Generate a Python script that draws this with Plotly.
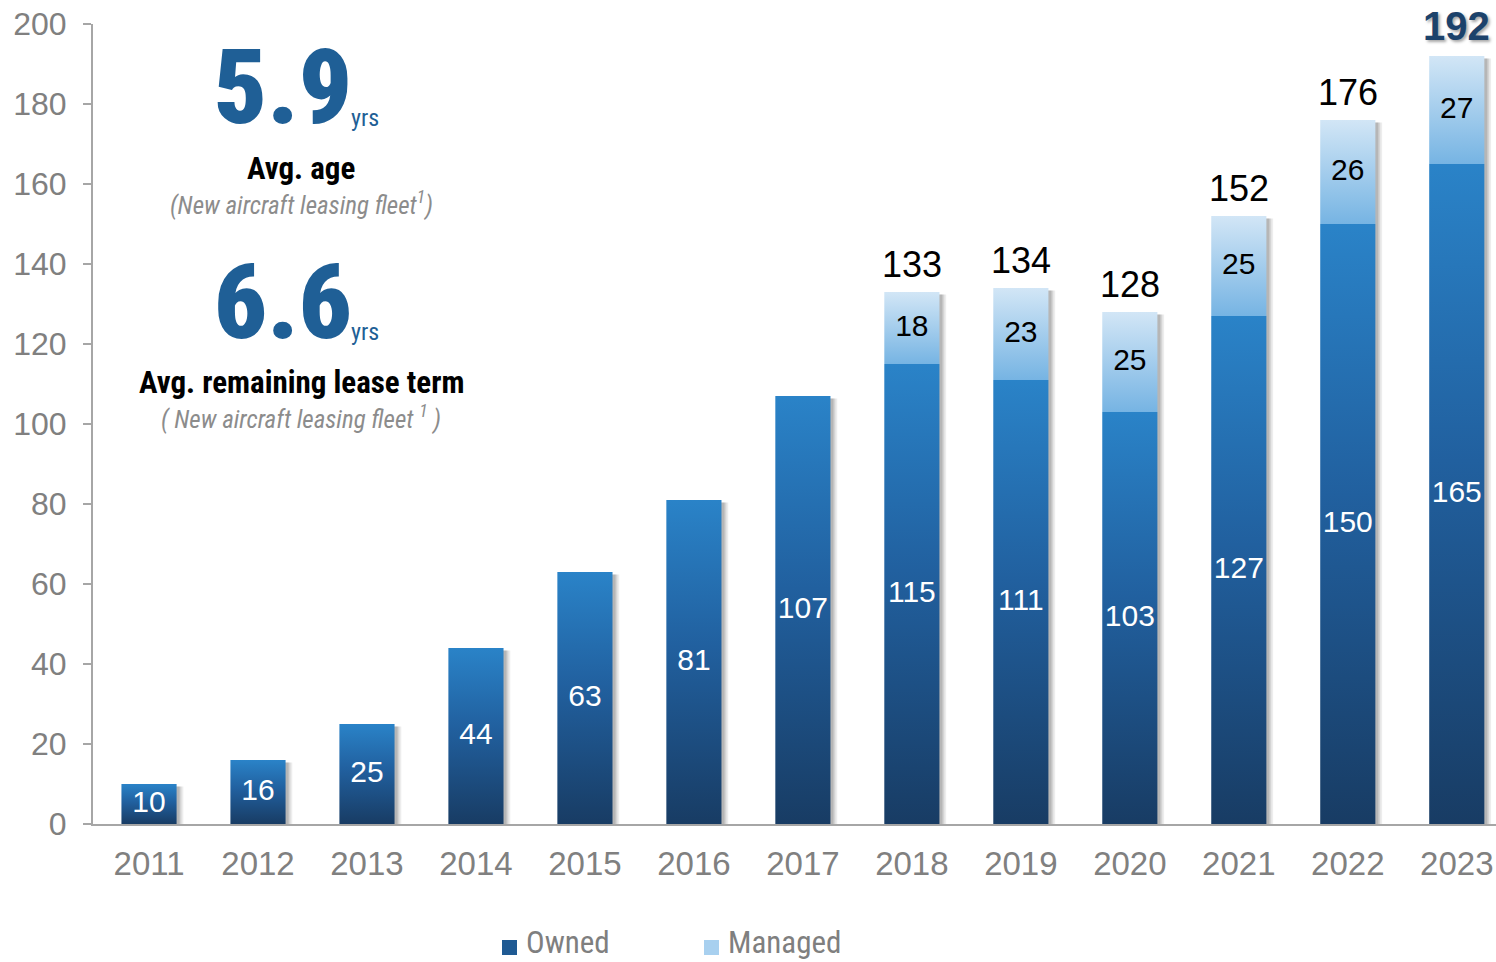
import plotly.graph_objects as go

# Fleet size by year (number of aircraft)
years = [2011, 2012, 2013, 2014, 2015, 2016, 2017, 2018, 2019, 2020, 2021, 2022, 2023]
owned = [10, 16, 25, 44, 63, 81, 107, 115, 111, 103, 127, 150, 165]
managed = [0, 0, 0, 0, 0, 0, 0, 18, 23, 25, 25, 26, 27]
totals = [None, None, None, None, None, None, None, 133, 134, 128, 152, 176, 192]

y_ticks = [0, 20, 40, 60, 80, 100, 120, 140, 160, 180, 200]
series_names = ["Owned", "Managed"]

HALF_W = 0.253
OWNED_SCALE = [[0, "#183C64"], [0.55, "#21609F"], [1, "#2A83C8"]]
MANAGED_SCALE = [[0, "#76B4E3"], [1, "#D2E6F6"]]
LEGEND_COLORS = ["#1F5A93", "#A8D0EF"]

W, H = 1496, 962
L, R, T, B = 93, 0, 24, 138
plot_w = W - L - R
plot_h = H - T - B

SANS = "Liberation Sans, Arial"
NARROW = "Roboto Condensed, Arial Narrow, Liberation Sans"
BLUE = "#1F5F96"


def px_to_paper(px, py):
    return (px - L) / plot_w, (H - B - py) / plot_h


def rect(x, y0, y1, dx=0.0, dy=0.0):
    xs = [x - HALF_W + dx, x + HALF_W + dx, x + HALF_W + dx, x - HALF_W + dx, x - HALF_W + dx]
    ys = [y0 + dy, y0 + dy, y1 + dy, y1 + dy, y0 + dy]
    return xs, ys


fig = go.Figure()

# soft drop shadows to the right of each bar
for yr, o, m in zip(years, owned, managed):
    top = o + m
    for dx, alpha in [(0.062, 0.07), (0.045, 0.10), (0.028, 0.14)]:
        xs, ys = rect(yr, 0, top, dx=dx, dy=-0.6)
        fig.add_trace(go.Scatter(x=xs, y=ys, fill="toself", mode="none",
                                 fillcolor=f"rgba(0,0,0,{alpha})",
                                 hoverinfo="skip", showlegend=False))

# owned segments with vertical gradient
for yr, o in zip(years, owned):
    xs, ys = rect(yr, 0, o)
    fig.add_trace(go.Scatter(x=xs, y=ys, fill="toself", mode="none", name="Owned",
                             fillgradient=dict(type="vertical", colorscale=OWNED_SCALE),
                             hoverinfo="skip", showlegend=False))

# managed segments stacked on top
for yr, o, m in zip(years, owned, managed):
    if m <= 0:
        continue
    xs, ys = rect(yr, o, o + m)
    fig.add_trace(go.Scatter(x=xs, y=ys, fill="toself", mode="none", name="Managed",
                             fillgradient=dict(type="vertical", colorscale=MANAGED_SCALE),
                             hoverinfo="skip", showlegend=False))

# value labels inside segments
fig.add_trace(go.Scatter(
    x=years, y=[o / 2 for o in owned], mode="text",
    text=[str(o) for o in owned],
    textfont=dict(family=SANS, size=30, color="white"),
    hoverinfo="skip", showlegend=False))

m_years = [yr for yr, m in zip(years, managed) if m > 0]
m_mid = [o + m / 2 for o, m in zip(owned, managed) if m > 0]
m_text = [str(m) for m in managed if m > 0]
fig.add_trace(go.Scatter(
    x=m_years, y=m_mid, mode="text", text=m_text,
    textfont=dict(family=SANS, size=30, color="black"),
    hoverinfo="skip", showlegend=False))

# totals above the stacked bars
for yr, tot in zip(years, totals):
    if tot is None:
        continue
    last = yr == years[-1]
    fig.add_annotation(
        x=yr, y=tot, text=f"<b>{tot}</b>" if last else str(tot),
        showarrow=False, yanchor="bottom", yshift=6 if last else 5,
        font=dict(family=SANS, size=40 if last else 36,
                  color="#1C426B" if last else "black",
                  shadow="2px 2px 3px rgba(0,0,0,0.35)" if last else "none"))

# key fleet metrics in the upper left
blocks = [
    ("5.9", 88, "Avg. age", 168, "(New aircraft leasing fleet<sup>1</sup>)", 203),
    ("6.6", 302, "Avg. remaining lease term", 382, "( New aircraft leasing fleet <sup>1</sup> )", 417),
]
for big, big_y, title, title_y, sub, sub_y in blocks:
    x, y = px_to_paper(283, big_y)
    fig.add_annotation(xref="paper", yref="paper", x=x, y=y, text=big,
                       showarrow=False, xanchor="center", yanchor="middle",
                       font=dict(family=NARROW, size=104, weight=900, color=BLUE))
    x, y = px_to_paper(349, big_y + 30)
    fig.add_annotation(xref="paper", yref="paper", x=x, y=y, text="yrs",
                       showarrow=False, xanchor="left", yanchor="middle",
                       font=dict(family=NARROW, size=24, color=BLUE))
    x, y = px_to_paper(301, title_y)
    fig.add_annotation(xref="paper", yref="paper", x=x, y=y, text=f"<b>{title}</b>",
                       showarrow=False, xanchor="center", yanchor="middle",
                       font=dict(family=NARROW, size=31, color="black"))
    x, y = px_to_paper(301, sub_y)
    fig.add_annotation(xref="paper", yref="paper", x=x, y=y, text=f"<i>{sub}</i>",
                       showarrow=False, xanchor="center", yanchor="middle",
                       font=dict(family=NARROW, size=25, color="#8C8C8C"))

# legend keys along the bottom edge
legend_x = [502, 704]
for name, color, sx in zip(series_names, LEGEND_COLORS, legend_x):
    x0, y0 = px_to_paper(sx, 955)
    x1, y1 = px_to_paper(sx + 15, 940)
    fig.add_shape(type="rect", xref="paper", yref="paper", x0=x0, y0=y0, x1=x1, y1=y1,
                  fillcolor=color, line=dict(width=0))
    tx, ty = px_to_paper(sx + 22, 942)
    fig.add_annotation(xref="paper", yref="paper", x=tx, y=ty, text=name,
                       showarrow=False, xanchor="left", yanchor="middle",
                       font=dict(family=NARROW, size=31, color="#7F7F7F"))

fig.update_layout(
    width=W, height=H,
    margin=dict(l=L, r=R, t=T, b=B),
    paper_bgcolor="white", plot_bgcolor="white",
    showlegend=False,
    xaxis=dict(range=[years[0] - 0.514, years[-1] + 0.36],
               tickvals=years, ticktext=[str(y) for y in years],
               showgrid=False, zeroline=False, showline=True,
               linecolor="#A6A6A6", linewidth=2, ticks="",
               ticklabelstandoff=9,
               tickfont=dict(family=SANS, size=33, color="#808080")),
    yaxis=dict(range=[0, 200], tickvals=y_ticks,
               showgrid=False, zeroline=False, showline=True,
               linecolor="#A6A6A6", linewidth=2, ticks="outside", ticklen=8,
               tickcolor="#A6A6A6", tickwidth=2, ticklabelstandoff=10,
               tickfont=dict(family=SANS, size=32, color="#808080")),
)

fig.write_html("out.html")
